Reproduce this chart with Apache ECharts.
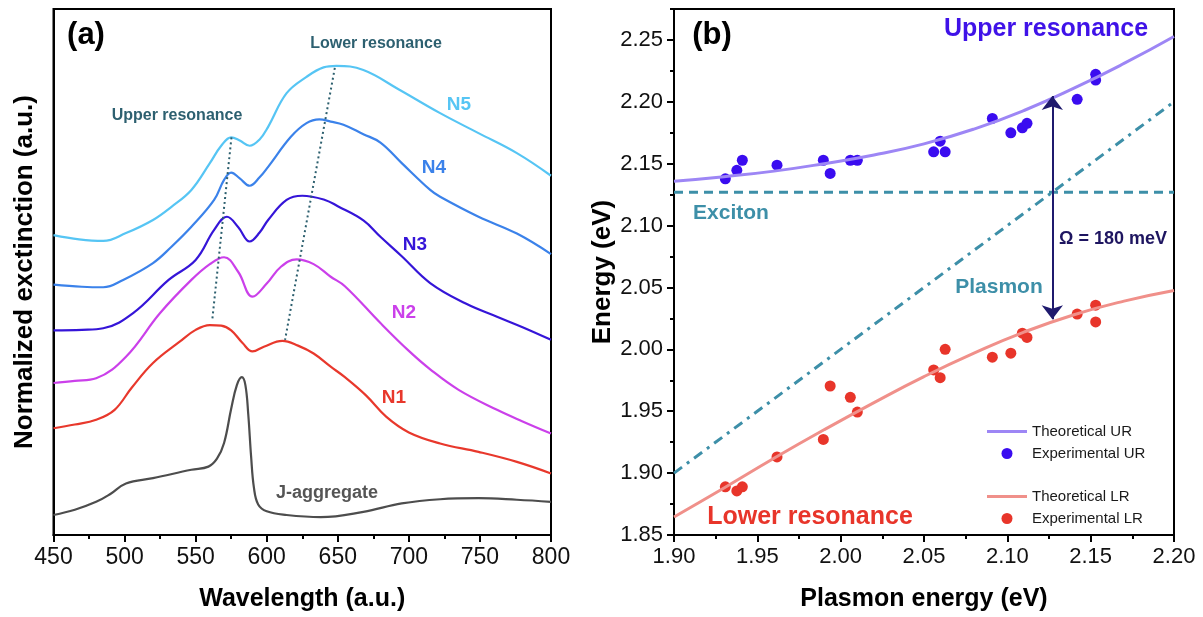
<!DOCTYPE html>
<html>
<head>
<meta charset="utf-8">
<title>Extinction spectra and anticrossing</title>
<script src="https://cdn.jsdelivr.net/npm/echarts@6/dist/echarts.min.js"></script>
</head>
<body style="margin:0">
<div id="main" style="width:1203px;height:617px;"></div>
<script>
// ---- (a) extinction spectra, [wavelength, offset extinction (a.u.)]
var specN5 = [[450,57.0],[468,56.2],[485,55.9],[501,57.4],[520,59.9],[533,62.4],[547,65.6],[560,70.7],[568,74.0],[575,75.6],[581,75.0],[588,74.0],[595,75.2],[601,77.6],[614,84.0],[628,87.1],[640,88.9],[649,89.2],[668,88.4],[693,84.7],[722,80.2],[749,76.4],[776,72.6],[800,68.3]];
var specN4 = [[450,47.6],[470,47.2],[485,47.1],[499,48.5],[520,51.7],[533,54.8],[547,58.6],[563,63.7],[570,67.5],[575,68.9],[581,67.8],[588,66.4],[595,68.0],[601,70.0],[617,75.7],[628,78.3],[637,79.0],[645,78.6],[654,78.0],[668,76.2],[680,74.6],[695,70.7],[715,65.6],[722,64.3],[749,60.5],[776,57.3],[800,53.4]];
var specN3 = [[450,38.9],[470,39.0],[485,39.3],[506,42.2],[531,48.5],[550,52.3],[563,58.0],[572,60.5],[580,58.5],[588,55.8],[595,57.5],[601,59.9],[614,63.7],[625,64.5],[641,63.7],[650,62.5],[668,59.8],[680,56.7],[695,53.0],[715,47.9],[740,44.0],[762,41.5],[780,39.5],[800,37.1]];
var specN2 = [[450,28.9],[465,29.3],[480,29.8],[501,33.9],[525,42.2],[547,48.5],[560,51.5],[570,52.8],[580,50.0],[590,45.3],[600,47.8],[610,51.0],[621,52.4],[633,51.5],[645,49.1],[655,47.3],[680,40.3],[700,35.0],[715,31.5],[735,27.6],[762,23.8],[780,21.6],[800,19.3]];
var specN1 = [[450,20.3],[465,21.0],[480,21.9],[493,23.8],[505,28.0],[520,32.7],[539,36.8],[550,39.0],[560,39.9],[568,39.8],[575,38.9],[583,36.5],[590,34.9],[598,35.8],[611,36.9],[622,36.0],[633,34.5],[645,32.0],[655,30.0],[670,26.5],[684,22.5],[700,19.5],[722,17.4],[749,15.8],[776,13.9],[800,11.7]];
var specJ = [[450,3.8],[465,4.8],[480,6.3],[490,7.8],[501,9.8],[520,10.8],[547,12.4],[559,13.0],[565,14.5],[570,17.5],[575,24.0],[579,28.5],[582.5,30.0],[585,28.5],[587,23.0],[589,15.0],[591,9.0],[594,5.8],[600,4.5],[614,3.8],[638,3.4],[668,4.4],[695,6.0],[722,6.8],[749,7.0],[776,6.7],[800,6.3]];
var upperGuide = [[575.2,75.6],[561.7,40.9]];
var lowerGuide = [[647.9,88.8],[612.9,37.1]];

// ---- (b) dispersion, [plasmon energy, energy] in eV
var upperTheory = [[1.90,2.1358],[1.93,2.1395],[1.96,2.1440],[1.99,2.1500],[2.02,2.1570],[2.05,2.1660],[2.08,2.1780],[2.11,2.1930],[2.14,2.2110],[2.17,2.2310],[2.20,2.2528]];
var lowerTheory = [[1.90,1.8646],[1.93,1.8880],[1.96,1.9120],[1.99,1.9350],[2.02,1.9570],[2.05,1.9780],[2.08,1.9970],[2.11,2.0140],[2.14,2.0280],[2.17,2.0390],[2.20,2.0476]];
var upperExp = [[1.9308,2.1378],[1.9377,2.1447],[1.9410,2.1528],[1.9618,2.1488],[1.9896,2.1528],[1.9937,2.1421],[2.0058,2.1528],[2.0100,2.1528],[2.0558,2.1596],[2.0597,2.1682],[2.0627,2.1596],[2.0910,2.1866],[2.1021,2.1750],[2.1090,2.1790],[2.1118,2.1826],[2.1419,2.2020],[2.1530,2.2176],[2.1530,2.2222]];
var lowerExp = [[1.9308,1.8889],[1.9377,1.8856],[1.9410,1.8889],[1.9618,1.9131],[1.9896,1.9272],[1.9937,1.9704],[2.0058,1.9612],[2.0100,1.9493],[2.0558,1.9834],[2.0597,1.9771],[2.0627,2.0000],[2.0910,1.9937],[2.1021,1.9969],[2.1090,2.0131],[2.1118,2.0096],[2.1419,2.0285],[2.1530,2.0357],[2.1530,2.0222]];
var excitonLine = [[1.90,2.127],[2.20,2.127]];
var plasmonLine = [[1.90,1.90],[2.20,2.20]];
var rabiArrow = [[2.127,2.2047],[2.127,2.0244]];
var energyTicks = [1.85,1.90,1.95,2.00,2.05,2.10,2.15,2.20,2.25];

var FONT = 'Liberation Sans, Arial, sans-serif';
var myChart = echarts.init(document.getElementById('main'));

function spectrum(name, data, color) {
    return {
        name: name, type: 'line', xAxisIndex: 0, yAxisIndex: 0,
        data: data, smooth: 0.4, symbol: 'none',
        lineStyle: { color: color, width: 2.2 }
    };
}
function guide(data) {
    return {
        type: 'line', xAxisIndex: 0, yAxisIndex: 0, data: data, symbol: 'none',
        lineStyle: { color: '#2c5f6e', width: 2, type: [2, 3] }
    };
}
function label(text, x, y, size, color) {
    return {
        type: 'text', x: x, y: y,
        style: { text: text, font: 'bold ' + size + 'px ' + FONT, fill: color, align: 'center', verticalAlign: 'middle' }
    };
}
// one legend box per entry so line keys can be thin and dot keys round
function legendEntry(name, top, isLine) {
    return {
        data: [{ name: name, icon: isLine ? 'rect' : 'circle' }],
        left: isLine ? 987 : 1001.5, top: top, padding: 0,
        itemWidth: 40, itemHeight: isLine ? 3 : 11,
        textStyle: { fontSize: 15, fontFamily: FONT, color: '#1a1a1a' }
    };
}

var axisFont = { fontFamily: FONT, color: '#111' };
var titleFont = { fontSize: 25, fontWeight: 'bold', fontFamily: FONT, color: '#000' };

option = {
    animation: false,
    backgroundColor: '#fff',
    grid: [
        { left: 53.5, right: 652, top: 9, bottom: 82, show: true, borderColor: '#000', borderWidth: 2 },
        { left: 674, right: 29, top: 9, bottom: 82, show: true, borderColor: '#000', borderWidth: 2 }
    ],
    xAxis: [
        {
            gridIndex: 0, type: 'value', min: 450, max: 800, interval: 50,
            name: 'Wavelength (a.u.)', nameLocation: 'middle', nameGap: 52, nameTextStyle: titleFont,
            axisLine: { lineStyle: { color: '#000', width: 2 } },
            axisTick: { length: 7, lineStyle: { color: '#000', width: 2 } },
            minorTick: { show: true, splitNumber: 2, length: 4, lineStyle: { color: '#000', width: 2 } },
            axisLabel: Object.assign({ fontSize: 23, margin: 11 }, axisFont),
            splitLine: { show: false }
        },
        {
            gridIndex: 1, type: 'value', min: 1.90, max: 2.20, interval: 0.05,
            name: 'Plasmon energy (eV)', nameLocation: 'middle', nameGap: 52, nameTextStyle: titleFont,
            axisLine: { lineStyle: { color: '#000', width: 2 } },
            axisTick: { length: 7, lineStyle: { color: '#000', width: 2 } },
            minorTick: { show: true, splitNumber: 2, length: 4, lineStyle: { color: '#000', width: 2 } },
            axisLabel: Object.assign({ fontSize: 22, margin: 11, formatter: function (v) { return v.toFixed(2); } }, axisFont),
            splitLine: { show: false }
        }
    ],
    yAxis: [
        {
            gridIndex: 0, type: 'value', min: 0, max: 100,
            name: 'Normalized exctinction (a.u.)', nameLocation: 'middle', nameGap: 16,
            nameTextStyle: Object.assign({}, titleFont, { fontSize: 26 }),
            axisLine: { show: true, lineStyle: { color: '#000', width: 2 } },
            axisTick: { show: false }, axisLabel: { show: false }, splitLine: { show: false }
        },
        {
            gridIndex: 1, type: 'value', position: 'left', min: 1.85, max: 2.275, interval: 0.025,
            name: 'Energy (eV)', nameLocation: 'middle', nameGap: 55,
            nameTextStyle: Object.assign({}, titleFont, { fontSize: 26 }),
            axisLine: { show: true, lineStyle: { color: '#000', width: 2 } },
            axisTick: { length: 4, lineStyle: { color: '#000', width: 2 } },
            axisLabel: Object.assign({
                fontSize: 22, margin: 11,
                formatter: function (v) { return Math.round(v * 1000) % 50 === 0 ? v.toFixed(2) : ''; }
            }, axisFont),
            splitLine: { show: false }
        },
        {
            // longer ticks at the labelled energies
            gridIndex: 1, type: 'value', position: 'left', min: 1.85, max: 2.275, interval: 0.05,
            axisLine: { show: false },
            axisTick: { length: 7, customValues: energyTicks, lineStyle: { color: '#000', width: 2 } },
            axisLabel: { show: false }, splitLine: { show: false }
        }
    ],
    legend: [
        legendEntry('Theoretical UR', 424, true),
        legendEntry('Experimental UR', 446, false),
        legendEntry('Theoretical LR', 489, true),
        legendEntry('Experimental LR', 511, false)
    ],
    series: [
        spectrum('J-aggregate', specJ, '#4d4d4d'),
        spectrum('N1', specN1, '#e8382c'),
        spectrum('N2', specN2, '#cb40ea'),
        spectrum('N3', specN3, '#3515d8'),
        spectrum('N4', specN4, '#3b82ea'),
        spectrum('N5', specN5, '#56c5f4'),
        guide(upperGuide),
        guide(lowerGuide),
        {
            name: 'Exciton', type: 'line', xAxisIndex: 1, yAxisIndex: 1, data: excitonLine, symbol: 'none',
            lineStyle: { color: '#3d8fa8', width: 3, type: [9, 6] },
            markLine: {
                silent: true, symbol: ['arrow', 'arrow'], symbolSize: [16, 14],
                label: { show: false },
                lineStyle: { color: '#1f1a6e', width: 2, type: 'solid' },
                data: [[{ coord: rabiArrow[0] }, { coord: rabiArrow[1] }]]
            }
        },
        {
            name: 'Plasmon', type: 'line', xAxisIndex: 1, yAxisIndex: 1, data: plasmonLine, symbol: 'none',
            lineStyle: { color: '#3d8fa8', width: 3, type: [10, 6, 3, 6] }
        },
        {
            name: 'Theoretical UR', type: 'line', xAxisIndex: 1, yAxisIndex: 1, data: upperTheory,
            smooth: 0.5, symbol: 'none', itemStyle: { color: '#9d86f5' },
            lineStyle: { color: '#9d86f5', width: 3 }
        },
        {
            name: 'Theoretical LR', type: 'line', xAxisIndex: 1, yAxisIndex: 1, data: lowerTheory,
            smooth: 0.5, symbol: 'none', itemStyle: { color: '#f0908a' },
            lineStyle: { color: '#f0908a', width: 3 }
        },
        {
            name: 'Experimental UR', type: 'scatter', xAxisIndex: 1, yAxisIndex: 1, data: upperExp,
            symbolSize: 11, itemStyle: { color: '#3a0cf0', opacity: 1 }
        },
        {
            name: 'Experimental LR', type: 'scatter', xAxisIndex: 1, yAxisIndex: 1, data: lowerExp,
            symbolSize: 11, itemStyle: { color: '#e8352a', opacity: 1 }
        }
    ],
    graphic: [
        label('(a)', 86, 35, 31, '#000'),
        label('Lower resonance', 376, 44, 16, '#2d6070'),
        label('Upper resonance', 177, 116, 16, '#2d6070'),
        label('N5', 459, 105, 19, '#56c5f4'),
        label('N4', 434, 168, 19, '#3b82ea'),
        label('N3', 415, 245, 19, '#3515d8'),
        label('N2', 404, 313, 19, '#cb40ea'),
        label('N1', 394, 398, 19, '#e8382c'),
        label('J-aggregate', 327, 493, 18, '#555'),
        label('(b)', 712, 35, 31, '#000'),
        label('Upper resonance', 1046, 29, 25, '#3f12e8'),
        label('Exciton', 731, 213, 21, '#3d8fa8'),
        label('Plasmon', 999, 287, 21, '#3d8fa8'),
        label('\u03a9 = 180 meV', 1113, 239, 18, '#1e1560'),
        label('Lower resonance', 810, 517, 25, '#e8352a')
    ]
};
myChart.setOption(option);
</script>
</body>
</html>
